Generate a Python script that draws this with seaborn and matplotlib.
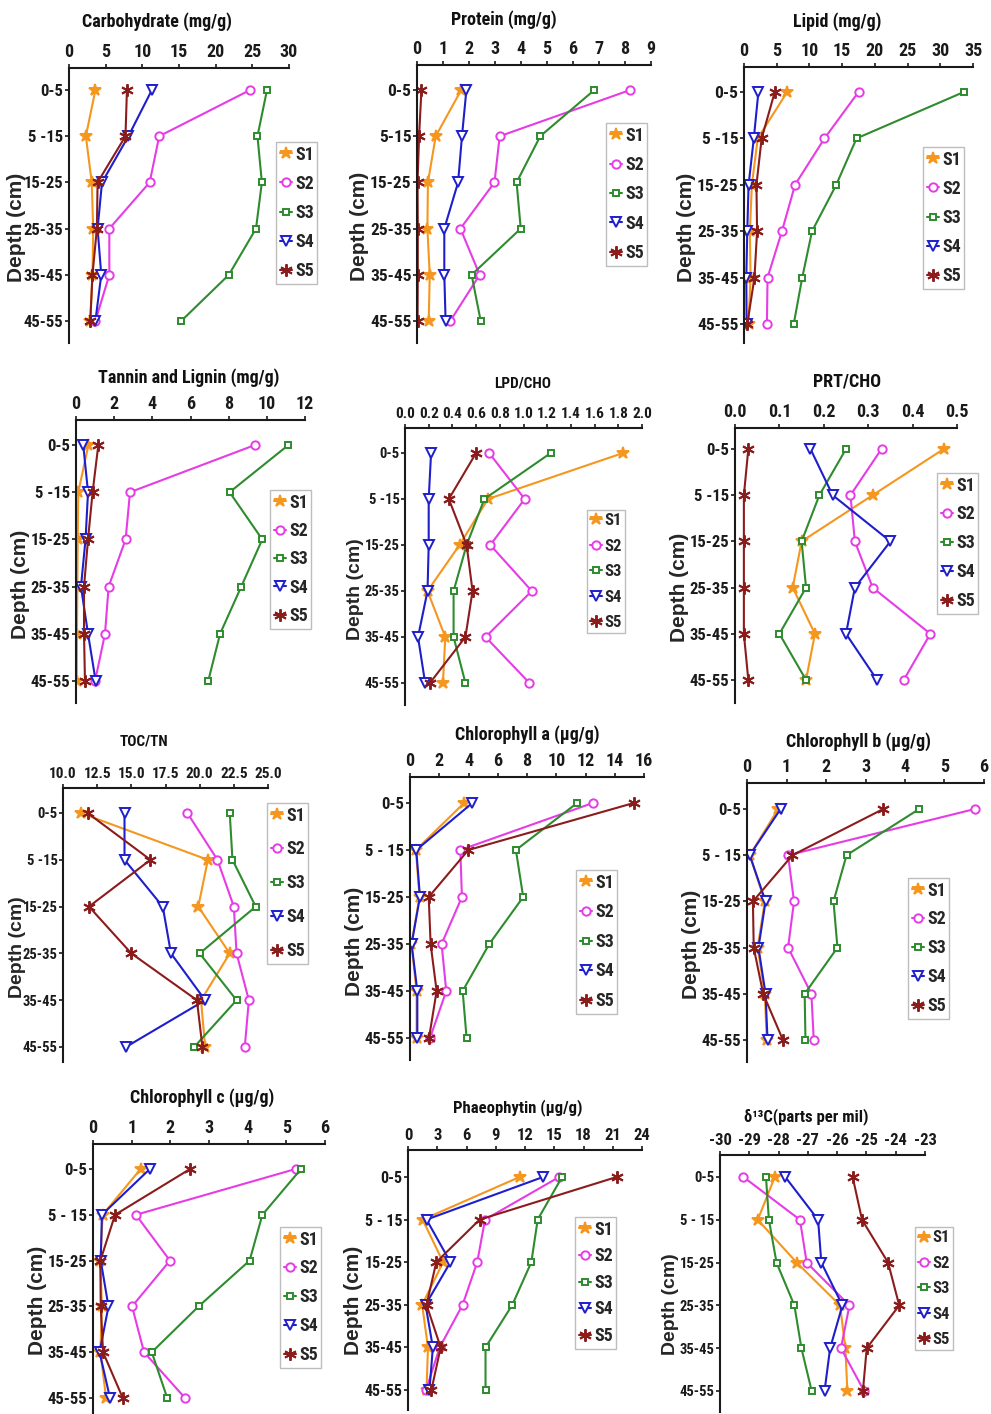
import numpy as np
import pandas as pd
import matplotlib
matplotlib.use("Agg")
import matplotlib.pyplot as plt
from matplotlib.transforms import IdentityTransform, blended_transform_factory
import seaborn as sns

# ---------------------------------------------------------------- data
DEPTH_LABELS = ["0-5", "5 -15", "15-25", "25-35", "35-45", "45-55"]
DEPTH_LABELS_TIGHT = ["0-5", "5-15", "15-25", "25-35", "35-45", "45-55"]
DEPTH_LABELS_WIDE = ["0-5", "5 - 15", "15-25", "25-35", "35-45", "45-55"]
STATIONS = ["S1", "S2", "S3", "S4", "S5"]

CARBOHYDRATE = {
    "S1": [3.6, 2.3, 3.1, 3.3, 3.2, 2.9],
    "S2": [24.7, 12.3, 11.0, 5.5, 5.5, 3.6],
    "S3": [27.0, 25.7, 26.3, 25.5, 21.8, 15.3],
    "S4": [11.3, 8.1, 4.5, 3.9, 4.4, 3.6],
    "S5": [7.9, 7.7, 3.9, 3.8, 3.2, 2.9],
}
PROTEIN = {
    "S1": [1.70, 0.72, 0.42, 0.40, 0.49, 0.45],
    "S2": [8.20, 3.18, 2.98, 1.67, 2.41, 1.28],
    "S3": [6.82, 4.74, 3.83, 3.99, 2.10, 2.45],
    "S4": [1.90, 1.73, 1.58, 1.05, 1.05, 1.10],
    "S5": [0.17, 0.08, 0.02, 0.03, 0.03, 0.02],
}
LIPID = {
    "S1": [6.6, 2.1, 1.2, 0.9, 1.0, 0.7],
    "S2": [17.5, 12.3, 7.8, 5.8, 3.6, 3.5],
    "S3": [33.6, 17.2, 14.1, 10.4, 8.9, 7.6],
    "S4": [2.2, 1.5, 0.7, 0.5, 0.35, 0.4],
    "S5": [4.7, 2.7, 1.9, 2.0, 1.6, 0.5],
}
TANNIN_LIGNIN = {
    "S1": [0.65, 0.12, 0.09, 0.07, 0.05, 0.04],
    "S2": [9.38, 2.83, 2.60, 1.71, 1.52, 1.00],
    "S3": [11.13, 8.05, 9.76, 8.66, 7.55, 6.93],
    "S4": [0.38, 0.63, 0.50, 0.26, 0.63, 1.03],
    "S5": [1.17, 0.87, 0.63, 0.42, 0.42, 0.47],
}
LPD_CHO = {
    "S1": [1.84, 0.70, 0.46, 0.19, 0.34, 0.32],
    "S2": [0.71, 1.01, 0.72, 1.07, 0.68, 1.05],
    "S3": [1.23, 0.67, 0.52, 0.41, 0.41, 0.51],
    "S4": [0.22, 0.20, 0.20, 0.19, 0.11, 0.17],
    "S5": [0.60, 0.37, 0.52, 0.57, 0.51, 0.21],
}
PRT_CHO = {
    "S1": [0.47, 0.31, 0.15, 0.13, 0.18, 0.16],
    "S2": [0.33, 0.26, 0.27, 0.31, 0.44, 0.38],
    "S3": [0.25, 0.19, 0.15, 0.16, 0.10, 0.16],
    "S4": [0.17, 0.22, 0.35, 0.27, 0.25, 0.32],
    "S5": [0.03, 0.02, 0.02, 0.02, 0.02, 0.03],
}
TOC_TN = {
    "S1": [11.3, 20.6, 19.9, 22.2, 20.1, 20.4],
    "S2": [19.1, 21.3, 22.5, 22.7, 23.6, 23.3],
    "S3": [22.2, 22.4, 24.1, 20.0, 22.7, 19.6],
    "S4": [14.5, 14.5, 17.3, 17.9, 20.4, 14.6],
    "S5": [11.8, 16.4, 11.9, 15.0, 19.8, 20.2],
}
CHL_A = {
    "S1": [3.70, 0.40, 0.65, 0.10, 0.45, 0.45],
    "S2": [12.50, 3.44, 3.55, 2.16, 2.48, 1.37],
    "S3": [11.43, 7.24, 7.74, 5.42, 3.60, 3.87],
    "S4": [4.26, 0.43, 0.68, 0.11, 0.50, 0.50],
    "S5": [15.30, 3.99, 1.28, 1.41, 1.82, 1.30],
}
CHL_B = {
    "S1": [0.79, 0.07, 0.45, 0.27, 0.45, 0.50],
    "S2": [5.77, 1.04, 1.19, 1.04, 1.63, 1.69],
    "S3": [4.36, 2.52, 2.19, 2.29, 1.46, 1.48],
    "S4": [0.85, 0.07, 0.47, 0.29, 0.47, 0.52],
    "S5": [3.45, 1.15, 0.15, 0.17, 0.41, 0.91],
}
CHL_C = {
    "S1": [1.23, 0.25, 0.19, 0.23, 0.19, 0.34],
    "S2": [5.24, 1.11, 1.99, 1.01, 1.32, 2.38],
    "S3": [5.38, 4.38, 4.05, 2.73, 1.52, 1.92],
    "S4": [1.47, 0.23, 0.20, 0.40, 0.17, 0.44],
    "S5": [2.51, 0.57, 0.19, 0.20, 0.26, 0.77],
}
PHAEOPHYTIN = {
    "S1": [11.45, 1.50, 3.60, 1.45, 2.05, 1.90],
    "S2": [15.50, 7.90, 7.10, 5.60, 3.25, 1.85],
    "S3": [15.80, 13.30, 12.65, 10.70, 7.95, 7.95],
    "S4": [13.85, 1.90, 4.35, 1.80, 2.55, 2.20],
    "S5": [21.40, 7.35, 2.90, 1.90, 3.35, 2.40],
}
DELTA13C = {
    "S1": [-28.13, -28.71, -27.38, -25.90, -25.72, -25.65],
    "S2": [-29.20, -27.27, -27.04, -25.58, -25.87, -25.08],
    "S3": [-28.43, -28.33, -28.07, -27.46, -27.22, -26.87],
    "S4": [-27.77, -26.65, -26.54, -25.82, -26.24, -26.43],
    "S5": [-25.47, -25.15, -24.26, -23.88, -24.99, -25.12],
}

TICKS_CARB = [0, 5, 10, 15, 20, 25, 30]
TICKS_PROT = [0, 1, 2, 3, 4, 5, 6, 7, 8, 9]
TICKS_LIPID = [0, 5, 10, 15, 20, 25, 30, 35]
TICKS_TANNIN = [0, 2, 4, 6, 8, 10, 12]
TICKS_LPD = [0.0, 0.2, 0.4, 0.6, 0.8, 1.0, 1.2, 1.4, 1.6, 1.8, 2.0]
TICKS_PRT = [0.0, 0.1, 0.2, 0.3, 0.4, 0.5]
TICKS_TOC = [10.0, 12.5, 15.0, 17.5, 20.0, 22.5, 25.0]
TICKS_CHLA = [0, 2, 4, 6, 8, 10, 12, 14, 16]
TICKS_CHLB = [0, 1, 2, 3, 4, 5, 6]
TICKS_CHLC = [0, 1, 2, 3, 4, 5, 6]
TICKS_PHAEO = [0, 3, 6, 9, 12, 15, 18, 21, 24]
TICKS_D13C = [-30, -29, -28, -27, -26, -25, -24, -23]

# ---------------------------------------------------------------- style
sns.set_style("ticks")
plt.rcParams["font.family"] = ["Roboto Condensed", "DejaVu Sans"]
plt.rcParams["font.weight"] = "bold"
plt.rcParams["axes.unicode_minus"] = False
YLABEL_FONT = ["Liberation Sans", "DejaVu Sans"]

COLORS = {"S1": "#F5961E", "S2": "#E63CE6", "S3": "#2E8B2E", "S4": "#1E1ECC", "S5": "#8B1C1C"}
MARKERS = {
    "S1": dict(marker="*", ms=9, mfc=COLORS["S1"]),
    "S2": dict(marker="o", ms=6, mfc="white"),
    "S3": dict(marker="s", ms=5, mfc="white"),
    "S4": dict(marker="v", ms=7, mfc="white"),
    "S5": dict(marker=(6, 2, 0), ms=9, mfc=COLORS["S5"]),
}

W, H = 991, 1414
fig = plt.figure(figsize=(W / 100, H / 100), dpi=100)

# title, data, ticks, fmt, depth labels,
# axes px (x0, x1, ytop, y05, y45, ybot), title px (cx, cy),
# legend px (left, top, height), font sizes (xtick, ytick, title, legend, ylabel)
PANELS = [
    ("Carbohydrate (mg/g)", CARBOHYDRATE, TICKS_CARB, "{:g}", DEPTH_LABELS,
     (69, 289, 68, 90, 321, 343), (157, 22), (276, 142, 151), (13, 12, 13, 13, 15)),
    ("Protein (mg/g)", PROTEIN, TICKS_PROT, "{:g}", DEPTH_LABELS_TIGHT,
     (417, 651, 65, 90, 321, 343), (504, 20), (606, 123, 152), (13, 12.5, 13, 13, 15)),
    ("Lipid (mg/g)", LIPID, TICKS_LIPID, "{:g}", DEPTH_LABELS,
     (744, 973, 67, 92, 324, 343), (837, 22), (923, 147, 151), (13, 12.5, 13, 13, 15)),
    ("Tannin and Lignin (mg/g)", TANNIN_LIGNIN, TICKS_TANNIN, "{:g}", DEPTH_LABELS,
     (76, 305, 420, 445, 681, 703), (189, 378), (270, 490, 148), (13, 12, 13, 13, 15)),
    ("LPD/CHO", LPD_CHO, TICKS_LPD, "{:.1f}", DEPTH_LABELS,
     (405, 642, 428, 453, 683, 705), (523, 383), (587, 510, 140), (11, 10.5, 11, 12, 14)),
    ("PRT/CHO", PRT_CHO, TICKS_PRT, "{:.1f}", DEPTH_LABELS,
     (735, 957, 428, 449, 680, 703), (847, 382), (937, 473, 150), (13, 12, 13, 13, 15)),
    ("TOC/TN", TOC_TN, TICKS_TOC, "{:.1f}", DEPTH_LABELS,
     (63, 268, 788, 813, 1047, 1062), (144, 742), (267, 803, 170), (11, 10.5, 11, 13, 14)),
    ("Chlorophyll a (\u03bcg/g)", CHL_A, TICKS_CHLA, "{:g}", DEPTH_LABELS_WIDE,
     (410, 644, 777, 803, 1038, 1060), (527, 735), (576, 870, 153), (13, 12, 13, 13, 15)),
    ("Chlorophyll b (\u03bcg/g)", CHL_B, TICKS_CHLB, "{:g}", DEPTH_LABELS_WIDE,
     (747, 984, 783, 809, 1040, 1062), (858, 742), (908, 878, 150), (13, 12, 13, 13, 15)),
    ("Chlorophyll c (\u03bcg/g)", CHL_C, TICKS_CHLC, "{:g}", DEPTH_LABELS_WIDE,
     (93, 325, 1144, 1169, 1398, 1414), (202, 1098), (280, 1227, 150), (13, 12, 13, 13, 15)),
    ("Phaeophytin (\u03bcg/g)", PHAEOPHYTIN, TICKS_PHAEO, "{:g}", DEPTH_LABELS_WIDE,
     (408, 642, 1150, 1177, 1390, 1410), (518, 1108), (575, 1217, 141), (12, 11.5, 12, 13, 15)),
    ("\u03b4\u00b9\u00b3C(parts per mil)", DELTA13C, TICKS_D13C, "{:g}", DEPTH_LABELS_WIDE,
     (720, 925, 1155, 1177, 1391, 1412), (806, 1117), (915, 1227, 140), (12, 10.5, 12, 12, 14)),
]

SPINE = "#1a1a1a"
axes_list = []

for (title, data, ticks, fmt, dlabels, box, tpos, leg, fs) in PANELS:
    x0, x1, ytop, y05, y45, ybot = box
    fs_x, fs_y, fs_t, fs_l, fs_yl = fs
    ax = fig.add_axes([x0 / W, 1 - ybot / H, (x1 - x0) / W, (ybot - ytop) / H])
    axes_list.append(ax)

    long = pd.DataFrame({
        "depth": np.tile(np.arange(len(dlabels)), len(STATIONS)),
        "value": np.concatenate([data[s] for s in STATIONS]),
        "station": np.repeat(STATIONS, len(dlabels)),
    })
    for st in STATIONS:
        sub = long[long["station"] == st]
        sns.lineplot(data=sub, x="value", y="depth", orient="y", sort=False,
                     color=COLORS[st], mec=COLORS[st], mew=1.4, lw=1.5,
                     label=st, ax=ax, **MARKERS[st])

    step = (y45 - y05) / 5
    ax.set_ylim(5 + (ybot - y45) / step, -(y05 - ytop) / step)
    ax.set_xlim(ticks[0], ticks[-1])
    ax.set_xticks(ticks)
    ax.set_xticklabels([fmt.format(t) for t in ticks], fontsize=fs_x, fontweight="bold")
    ax.set_yticks(range(len(dlabels)))
    ax.set_yticklabels(dlabels, fontsize=fs_y, fontweight="bold")
    ax.set_xlabel("")
    ax.set_ylabel("Depth (cm)", fontsize=fs_yl, fontweight="bold", family=YLABEL_FONT)

    ax.xaxis.tick_top()
    for side in ("right", "bottom"):
        ax.spines[side].set_visible(False)
    for side in ("top", "left"):
        ax.spines[side].set_color(SPINE)
        ax.spines[side].set_linewidth(1.5)
    ax.tick_params(axis="x", top=True, bottom=False, labeltop=True, labelbottom=False,
                   direction="out", length=3, width=1.2, pad=2, colors=SPINE)
    ax.tick_params(axis="y", direction="out", length=3, width=1.2, pad=1, colors=SPINE)

    fig.text(tpos[0] / W, 1 - tpos[1] / H, title, ha="center", va="center",
             fontsize=fs_t, fontweight="bold", color="#111111")

    lx, ly, lh = leg
    em = fs_l * 100 / 72
    bp = 0.2
    spacing = max((lh - 2 * bp * em - 5 * em * 1.1) / (4 * em), 0.2)
    lg = ax.legend(loc="upper left", bbox_to_anchor=(lx / W, 1 - ly / H),
                   bbox_transform=fig.transFigure, frameon=True, fancybox=False,
                   framealpha=1, edgecolor="#bdbdbd", handlelength=0.7,
                   handletextpad=0.15, borderpad=bp, borderaxespad=0,
                   labelspacing=spacing, prop={"size": fs_l, "weight": "bold"})
    lg.get_frame().set_linewidth(1.0)

# place each "Depth (cm)" just left of its depth tick labels
fig.canvas.draw()
renderer = fig.canvas.get_renderer()
for ax in axes_list:
    left = min(t.get_window_extent(renderer).x0 for t in ax.get_yticklabels())
    ax.yaxis.set_label_coords(
        max(left - 1, 26), 0.42,
        transform=blended_transform_factory(IdentityTransform(), ax.transAxes))

fig.savefig("out.png", dpi=100)
